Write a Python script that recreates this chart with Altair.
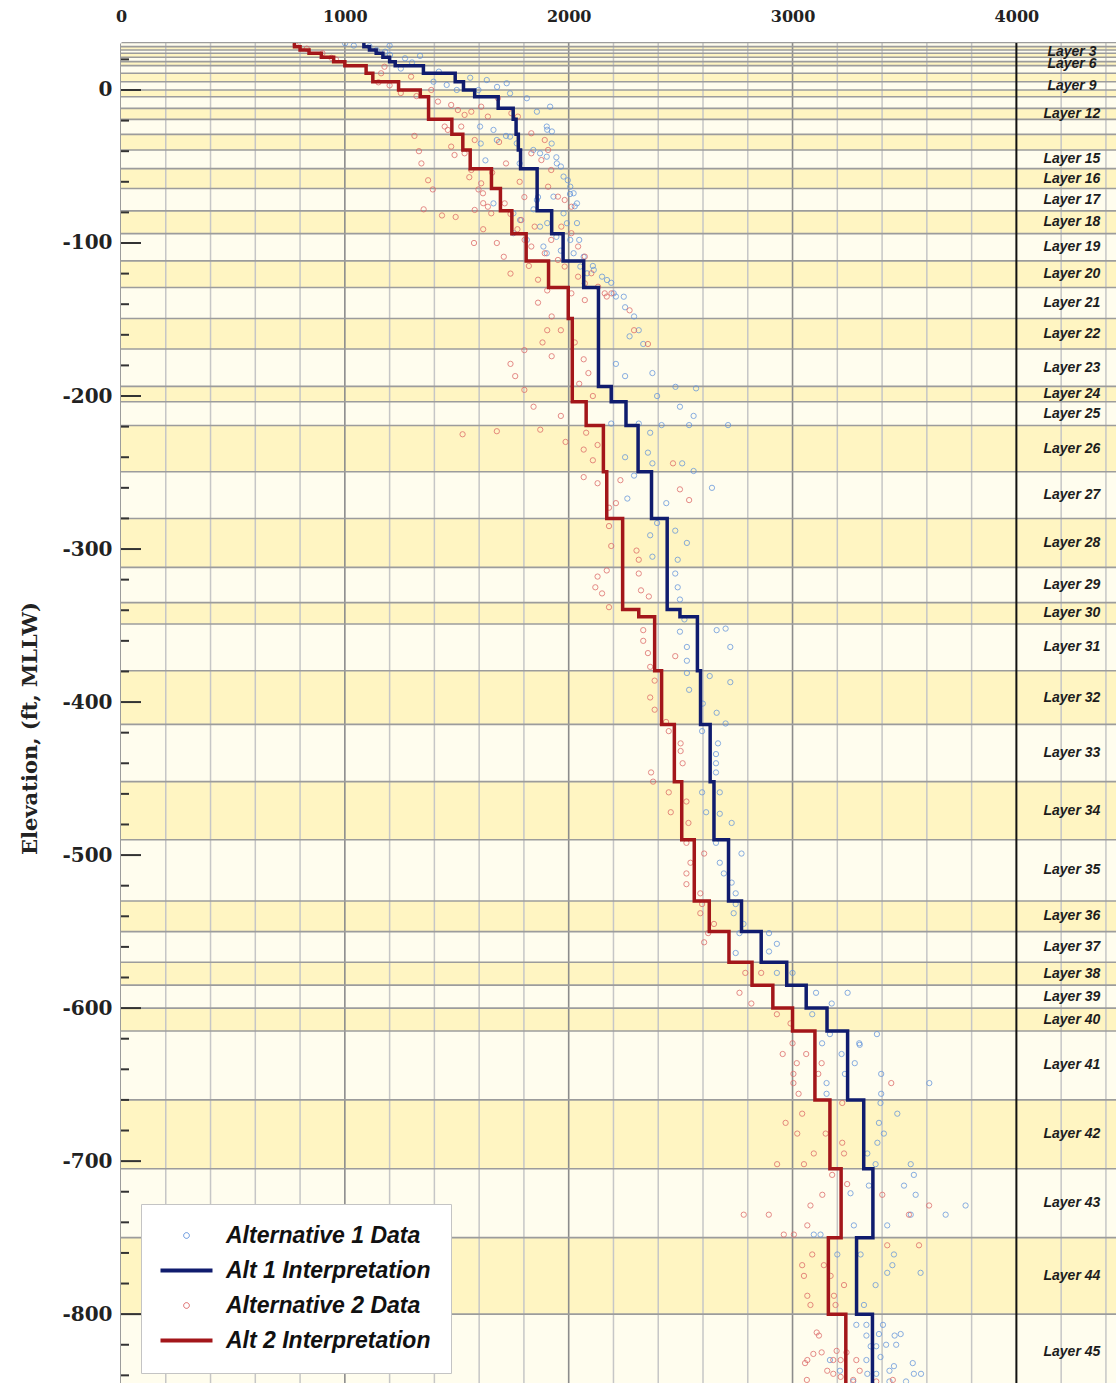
import altair as alt
import pandas as pd

# ---------------- data ----------------
# layer boundaries (elevation, ft MLLW) from top of Layer 1 to bottom of Layer 45
layer_bounds = [31, 28.3, 26.1, 24.0, 21.4, 18.5, 15.9, 10.9, 5.4, 0, -4.4, -12.0, -19.2, -29.0, -39.2,
                -51.4, -64.4, -79.0, -93.9, -111.7, -129.1, -149.3, -169.3, -193.7, -203.7, -219.3,
                -249.5, -280, -312, -335, -349, -379.5, -414.6, -452, -490, -530, -550, -570, -585,
                -600, -615, -660, -705, -750, -800, -850]
labeled_layers = [3, 6, 9, 12] + list(range(15, 46))

# interpretation step profiles (elevation breaks and value per interval)
step_bounds = [31, 28.3, 26.1, 24.0, 21.4, 18.5, 15.9, 10.9, 5.4, 0, -4.4, -12.0, -19.2, -29.0, -39.2,
               -51.4, -64.4, -79.0, -93.9, -111.7, -129.1, -149.3, -169.3, -193.7, -203.7, -219.3,
               -249.5, -280, -312, -339.5, -344.2, -379.5, -414.6, -452, -490, -530, -550, -570, -585,
               -600, -615, -660, -705, -750, -800, -850]
alt1_interp = [1085, 1110, 1140, 1170, 1200, 1225, 1351, 1493, 1530, 1580, 1685, 1752, 1765, 1775, 1785,
               1859, 1859, 1924, 1975, 2067, 2133, 2133, 2133, 2190, 2256, 2310, 2370, 2440, 2440, 2497,
               2575, 2589, 2632, 2649, 2714, 2772, 2860, 2974, 3061, 3154, 3246, 3318, 3359, 3286, 3357]
alt2_interp = [775, 800, 840, 895, 950, 1000, 1095, 1125, 1240, 1337, 1374, 1374, 1478, 1527, 1560,
               1655, 1695, 1746, 1810, 1910, 1998, 2016, 2016, 2016, 2078, 2155, 2170, 2241, 2241, 2313,
               2384, 2415, 2472, 2505, 2561, 2628, 2716, 2819, 2912, 3000, 3100, 3167, 3217, 3160, 3238]

# measured data points [value, elevation]
alt1_points = [
    [1001, 30.5], [1040, 29], [1110, 28.5], [1200, 29], [1142, 26.1], [1180, 25], [1202, 22.9], [1269, 20.7],
    [1336, 22.3], [1300, 18], [1250, 14], [1420, 12], [1560, 8], [1396, 5.4], [1455, 3.3], [1500, 0],
    [1597, 0], [1634, 6.5], [1723, 4.4], [1680, 2], [1738, -2.2], [1813, -5.4], [1858, -14.2], [1917, -10.9],
    [1902, -23.9], [1925, -27.1], [1604, -23.9], [1664, -26.1], [1679, -32.7], [1738, -30.5], [1768, -34.9],
    [1842, -39.2], [1872, -41.4], [1902, -43.6], [1947, -48], [1977, -56.6], [2007, -63.2], [2022, -67.5],
    [2037, -74.1], [1858, -71.9], [1932, -69.7], [1664, -74.1], [1753, -80.6], [1977, -80.6], [1992, -87.1],
    [2007, -98], [2022, -106.7], [2052, -115.4], [2112, -117.6], [2171, -124.2], [2201, -132.9], [2246, -135.1],
    [2082, -119.8], [1872, -89.3], [1887, -102.3], [1902, -106.7], [1813, -98], [1783, -85], [1753, -93.6],
    [1607, -35], [1628, -46], [1904, -26], [1924, -35], [1945, -44], [1965, -50], [1996, -59], [2006, -68],
    [2027, -76], [2037, -87], [2047, -98], [2067, -109], [2108, -115], [2149, -122], [2190, -126],
    [2211, -135], [2252, -142], [2292, -148], [2313, -157], [2272, -161], [2333, -166], [2211, -179],
    [2252, -187], [2374, -185], [2477, -194], [2569, -195], [2395, -200], [2497, -207], [2558, -213],
    [1863, -70], [1843, -78], [1904, -87], [1945, -96], [1965, -105], [1781, -48], [1720, -30],
    [2190, -218], [2313, -218], [2364, -224], [2415, -219], [2538, -219], [2712, -219], [2252, -240],
    [2292, -252], [2354, -237], [2374, -244], [2507, -244], [2558, -249], [2640, -260], [2262, -267],
    [2436, -270], [2476, -288], [2528, -296], [2395, -283], [2364, -291], [2374, -305], [2487, -307],
    [2476, -316], [2487, -325], [2497, -333], [2517, -346], [2497, -354], [2528, -364], [2661, -353],
    [2701, -352], [2722, -364], [2528, -373], [2528, -381], [2630, -383], [2722, -387], [2538, -392],
    [2599, -401], [2661, -407], [2701, -414],
    [2596, -419], [2667, -427], [2658, -434], [2658, -440], [2658, -446], [2596, -459], [2675, -459],
    [2614, -472], [2675, -473], [2728, -479], [2658, -492], [2772, -499], [2675, -505], [2693, -512],
    [2728, -518], [2746, -525], [2746, -532], [2737, -538], [2781, -545], [2763, -551], [2895, -551],
    [2930, -558], [2746, -564], [2895, -563], [2930, -577], [3000, -577], [3105, -590], [3246, -590],
    [3175, -597], [3088, -604], [3167, -617], [3377, -617], [3298, -623], [3132, -623], [3219, -630],
    [3300, -624], [3278, -636], [3396, -643], [3234, -643], [3152, -649], [3152, -656], [3396, -656],
    [3611, -649],
    [3393, -662], [3468, -669], [3386, -675], [3408, -682], [3379, -688], [3334, -695], [3371, -702],
    [3528, -702], [3542, -709], [3498, -716], [3550, -722], [3341, -716], [3259, -721], [3423, -742],
    [3274, -742], [3684, -735], [3773, -729], [3528, -735], [3095, -748], [3125, -748], [3200, -761],
    [3304, -761], [3453, -761], [3446, -768], [3423, -773], [3572, -773], [3371, -781], [3319, -794],
    [3386, -813], [3483, -813], [3349, -821], [3393, -828], [3453, -834], [3334, -839], [3542, -839],
    [3285, -807], [3330, -807], [3404, -807], [3330, -814], [3456, -814], [3374, -821], [3418, -820],
    [3463, -820], [3167, -830], [3212, -837], [3330, -830], [3374, -839], [3433, -837], [3537, -832],
    [3574, -839], [3507, -844], [3271, -844], [3433, -844],
]
alt2_points = [
    [780, 29.5], [830, 27], [900, 24], [940, 21], [960, 20], [1162, 10.9], [1177, 15.2], [1296, 8.7],
    [1150, 5], [1200, 3], [1250, -2], [1320, -4], [1386, 0], [1416, -7.6], [1475, -9.8], [1505, -13.1],
    [1535, -16.3], [1565, -14.2], [1609, -10.9], [1684, -5.4], [1639, -17.4], [1744, -15.2], [1773, -17.4],
    [1446, -23.9], [1460, -26.1], [1520, -23.9], [1580, -32.7], [1475, -37], [1490, -42.5], [1535, -41.4],
    [1565, -52.3], [1609, -61], [1617, -67.5], [1639, -76.3], [1580, -78.4], [1654, -80.6], [1714, -74.1],
    [1788, -85], [1848, -89.3], [1833, -28.3], [1893, -32.7], [1908, -39.2], [1833, -41.4], [1878, -45.8],
    [1922, -52.3], [1908, -63.2], [1952, -69.7], [1982, -71.9], [2012, -76.3], [1967, -89.3], [2012, -93.6],
    [2042, -102.3], [2072, -108.9], [2101, -119.8], [2131, -128.6], [2161, -132.9], [1922, -98],
    [1893, -106.7], [1952, -111.1], [1982, -115.4], [2042, -122], [2072, -126.4], [2191, -132.9],
    [2012, -132.9], [2072, -137.3], [1803, -98], [1833, -102.3],
    [1311, -30], [1331, -40], [1342, -48], [1372, -59], [1393, -65], [1352, -78], [1434, -82], [1495, -83],
    [1556, -57], [1597, -65], [1618, -74], [1658, -54], [1689, -34], [1720, -48], [1781, -60], [1802, -70],
    [1740, -81], [1771, -91], [1618, -91], [1577, -100], [1679, -100], [1710, -109], [1740, -120],
    [1822, -115], [1863, -124], [1904, -131], [1863, -139], [1924, -148], [1965, -157], [1904, -157],
    [1883, -165], [1802, -170], [1924, -174], [2027, -165], [2067, -176], [2088, -185], [1740, -179],
    [1761, -187], [1802, -196], [1843, -207], [1965, -213], [2047, -192], [2108, -200], [2170, -135],
    [2272, -144], [2292, -157], [2354, -166],
    [1526, -225], [1679, -223], [1873, -222], [1986, -230], [2078, -224], [2067, -235], [2129, -232],
    [2108, -242], [2067, -253], [2129, -257], [2231, -255], [2211, -270], [2180, -273], [2466, -244],
    [2497, -261], [2538, -268], [2180, -285], [2190, -298], [2303, -301], [2313, -307], [2170, -314],
    [2129, -318], [2119, -325], [2149, -329], [2180, -338], [2313, -316], [2323, -327], [2358, -331],
    [2333, -353], [2333, -360], [2354, -368], [2364, -377], [2476, -370], [2384, -386], [2364, -397],
    [2384, -405], [2435, -413],
    [2447, -419], [2500, -427], [2500, -432], [2509, -440], [2368, -446], [2377, -452], [2447, -459],
    [2526, -465], [2456, -472], [2535, -479], [2526, -492], [2605, -499], [2544, -505], [2526, -512],
    [2526, -519], [2588, -525], [2596, -532], [2588, -538], [2649, -545], [2605, -557], [2623, -551],
    [2789, -577], [2860, -577], [2763, -590], [2816, -597], [2930, -604], [2991, -610], [3000, -623],
    [2956, -630], [3061, -630], [3019, -636], [3004, -643], [3004, -649], [3027, -656], [3130, -636],
    [3115, -643], [3441, -649],
    [3222, -662], [3043, -669], [2969, -675], [3021, -682], [3148, -682], [3222, -688], [3095, -695],
    [3230, -695], [2931, -702], [3051, -702], [3177, -709], [3244, -715], [3133, -722], [3080, -729],
    [3401, -722], [3610, -729], [2782, -735], [2894, -735], [3520, -735], [3066, -742], [2961, -748],
    [3006, -748], [3423, -755], [3565, -755], [3088, -761], [3043, -768], [3140, -768], [3051, -775],
    [3170, -775], [3230, -781], [3066, -788], [3185, -788], [3080, -794], [3192, -794], [3118, -814],
    [3066, -830], [3215, -830], [3155, -837], [3215, -841], [3108, -812], [3056, -832], [3093, -826],
    [3130, -825], [3182, -830], [3197, -824], [3241, -825], [3285, -830], [3300, -837], [3064, -843],
    [3182, -839], [3271, -843], [3374, -844], [3448, -843],
]

series_names = ["Alternative 1 Data", "Alt 1 Interpretation", "Alternative 2 Data", "Alt 2 Interpretation"]
series_colors = ["#5f92dc", "#101c6e", "#dc6464", "#a3161a"]
x_ticks = [0, 1000, 2000, 3000, 4000]
y_ticks = list(range(-800, 1, 100))
tick_marks = list(range(-840, 21, 20))
grid_x = list(range(200, 4401, 200))

# ---------------- frames ----------------
X_MAX, Y_MIN, Y_MAX = 4445, -845, 30.7
W, H = 995, 1340
LABEL_X = 4248

bands_df = pd.DataFrame({"layer": range(1, len(layer_bounds)),
                         "top": layer_bounds[:-1], "bottom": layer_bounds[1:]})
bands_df["shade"] = ["even" if n % 2 == 0 else "odd" for n in bands_df["layer"]]
bands_df["mid"] = (bands_df["top"] + bands_df["bottom"]) / 2
labels_df = bands_df[bands_df["layer"].isin(labeled_layers)].copy()
labels_df["name"] = ["Layer %d" % n for n in labels_df["layer"]]
bounds_df = pd.DataFrame({"b": layer_bounds})

grid_df = pd.DataFrame({"gx": grid_x})
minor_grid = grid_df[grid_df["gx"] % 1000 != 0]
major_grid = grid_df[(grid_df["gx"] % 1000 == 0) & (grid_df["gx"] != 4000)]
edge_grid = grid_df[grid_df["gx"] == 4000]

rows = []
for name, pts in [(series_names[0], alt1_points), (series_names[2], alt2_points)]:
    for v, e in pts:
        rows.append({"x": v, "elev": e, "series": name})
pts_df = pd.DataFrame(rows)

srows = []
for name, vals in [(series_names[1], alt1_interp), (series_names[3], alt2_interp)]:
    seq = 0
    for i, v in enumerate(vals):
        for e in (step_bounds[i], step_bounds[i + 1]):
            srows.append({"x": v, "elev": e, "series": name, "seq": seq})
            seq += 1
step_df = pd.DataFrame(srows)

ticks_df = pd.DataFrame({"v": tick_marks})
major_ticks = ticks_df[ticks_df["v"] % 100 == 0]
minor_ticks = ticks_df[ticks_df["v"] % 100 != 0]

# ---------------- scales / guides ----------------
xs = alt.Scale(domain=[0, X_MAX], nice=False, zero=False)
ys = alt.Scale(domain=[Y_MIN, Y_MAX], nice=False, zero=False)
cs = alt.Scale(domain=series_names, range=series_colors)

x_axis = alt.Axis(orient="top", values=x_ticks, labelExpr="'' + datum.value", title=None,
                  ticks=False, tickSize=0, grid=False, domain=True, domainColor="#3a3a3a",
                  domainWidth=2, labelFont="DejaVu Serif", labelFontWeight="bold",
                  labelFontSize=16, labelColor="#222222", labelPadding=19, labelFlush=False)
y_axis = alt.Axis(orient="left", values=y_ticks, labelExpr="'' + datum.value",
                  title="Elevation, (ft, MLLW)", ticks=False, tickSize=0, grid=False,
                  domain=True, domainColor="#3a3a3a", domainWidth=2,
                  labelFont="DejaVu Serif", labelFontWeight="bold", labelFontSize=20,
                  labelColor="#222222", labelPadding=9,
                  titleFont="DejaVu Serif", titleFontWeight="bold", titleFontSize=21,
                  titleColor="#222222", titlePadding=21, titleY=685)

shape_expr = ("datum.index % 2 == 1 ? 'M-1,0L1,0' : "
              "'M-0.11,0A0.11,0.11,0,1,0,0.11,0A0.11,0.11,0,1,0,-0.11,0Z'")
legend = alt.Legend(
    title=None, orient="none", legendX=20, legendY=1161, direction="vertical",
    fillColor="white", strokeColor="#c4c4c4", padding=20, cornerRadius=0,
    labelFont="Liberation Sans", labelFontSize=23, labelFontStyle="italic",
    labelFontWeight="bold", labelColor="#111111", labelOffset=28, labelLimit=400,
    symbolSize=2704, symbolOpacity=1, rowPadding=11, symbolFillColor="transparent",
    symbolOffset=14,
    symbolType={"expr": shape_expr},
    symbolStrokeWidth={"expr": "datum.index % 2 == 1 ? 4 : 1"},
)

# ---------------- layers ----------------
bands = alt.Chart(bands_df).mark_rect(clip=True).encode(
    x=alt.X(datum=0, scale=xs, axis=x_axis), x2=alt.X2(datum=X_MAX),
    y=alt.Y("top:Q", scale=ys, axis=y_axis), y2="bottom:Q",
    fill=alt.Fill("shade:N", scale=alt.Scale(domain=["even", "odd"], range=["#fff5c2", "#fffdee"]),
                  legend=None),
)
minor_rules = alt.Chart(minor_grid).mark_rule(color="#c6c6c6", strokeWidth=1.5).encode(
    x=alt.X("gx:Q", scale=xs, axis=x_axis))
major_rules = alt.Chart(major_grid).mark_rule(color="#8c8c8c", strokeWidth=1.6).encode(
    x=alt.X("gx:Q", scale=xs, axis=x_axis))
layer_rules = alt.Chart(bounds_df).mark_rule(color="#9c9c9c", strokeWidth=1.6, clip=True).encode(
    y=alt.Y("b:Q", scale=ys, axis=y_axis))
edge_rule = alt.Chart(edge_grid).mark_rule(color="#111111", strokeWidth=2).encode(
    x=alt.X("gx:Q", scale=xs, axis=x_axis))
points = alt.Chart(pts_df).mark_point(shape="circle", filled=False, size=28, strokeWidth=1,
                                      opacity=0.75, clip=True).encode(
    x=alt.X("x:Q", scale=xs, axis=x_axis), y=alt.Y("elev:Q", scale=ys, axis=y_axis),
    color=alt.Color("series:N", scale=cs, legend=legend))
steps = alt.Chart(step_df).mark_line(strokeWidth=3.5, clip=True).encode(
    x=alt.X("x:Q", scale=xs, axis=x_axis), y=alt.Y("elev:Q", scale=ys, axis=y_axis),
    color=alt.Color("series:N", scale=cs, legend=legend), order="seq:Q")
layer_text = alt.Chart(labels_df).mark_text(font="Liberation Sans", fontStyle="italic",
                                            fontWeight="bold", fontSize=14, color="#1c1c1c").encode(
    x=alt.X(datum=LABEL_X, scale=xs, axis=x_axis), y=alt.Y("mid:Q", scale=ys, axis=y_axis),
    text="name:N")
tick_major = alt.Chart(major_ticks).mark_rule(color="#333333", strokeWidth=2).encode(
    y=alt.Y("v:Q", scale=ys, axis=y_axis), x=alt.value(0), x2=alt.value(20))
tick_minor = alt.Chart(minor_ticks).mark_rule(color="#333333", strokeWidth=2).encode(
    y=alt.Y("v:Q", scale=ys, axis=y_axis), x=alt.value(0), x2=alt.value(8))

chart = alt.layer(
    bands, minor_rules, major_rules, layer_rules, edge_rule, points, steps, layer_text,
    tick_major, tick_minor,
).properties(
    width=W, height=H,
    padding={"left": 121, "top": 43, "right": 0, "bottom": 0},
    autosize=alt.AutoSizeParams(type="none"),
    background="white",
).configure_view(stroke=None)

chart.save("out.html", embed_options={"renderer": "svg", "actions": False})
